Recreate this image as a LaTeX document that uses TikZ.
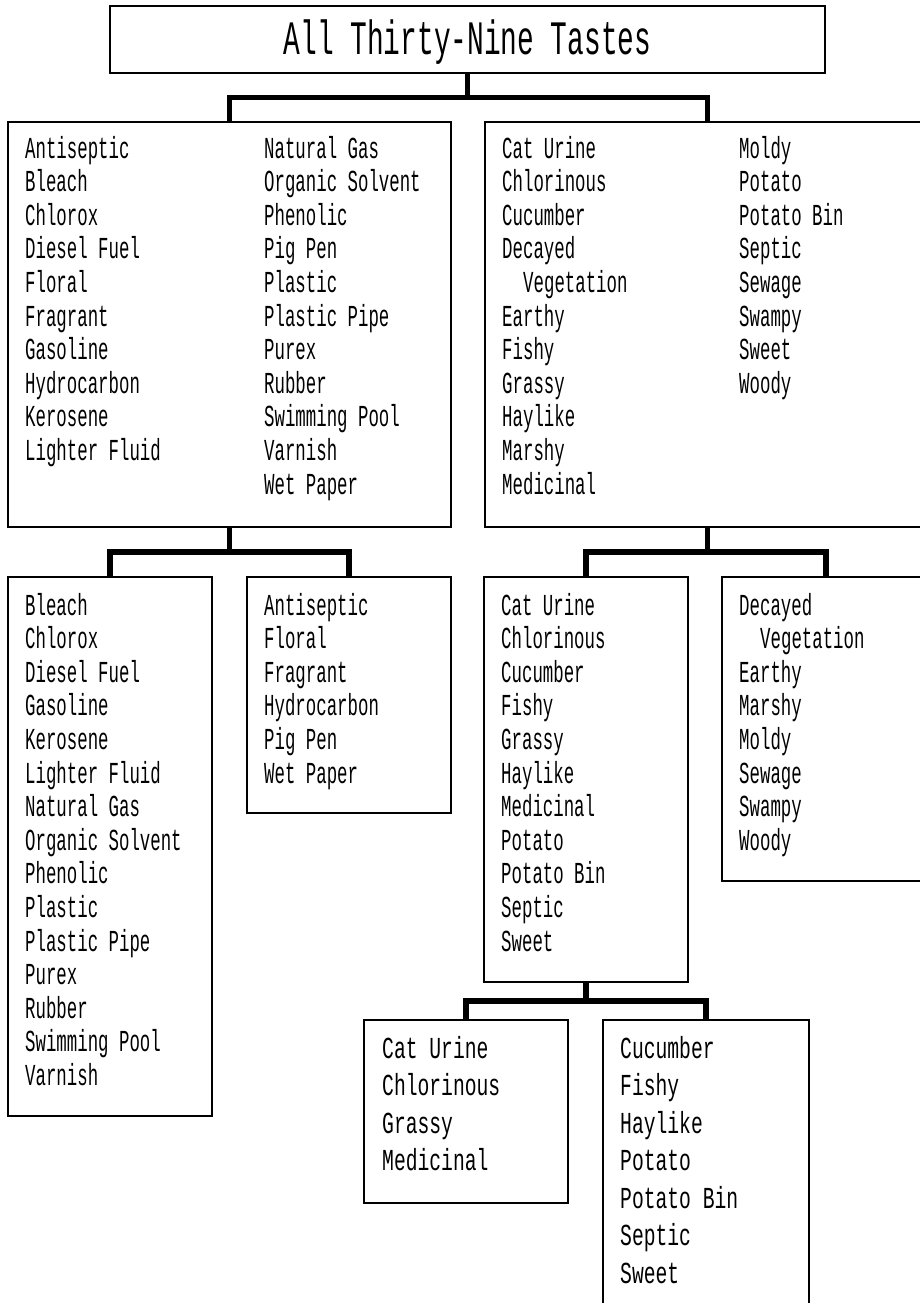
\documentclass[tikz,border=0pt]{standalone}
\usepackage{fontspec}
\newfontfamily\bodyfont[FakeStretch=0.57]{Liberation Mono}
\newfontfamily\lowfont[FakeStretch=0.645]{Liberation Mono}
\newfontfamily\titlefont[FakeStretch=0.58]{Liberation Mono}
\usetikzlibrary{calc}
\tikzset{
  tbox/.style={draw, line width=1.2pt, rectangle, inner sep=0pt},
  conn/.style={line width=5.5pt},
  item/.style={anchor=base west, inner sep=0pt, font=\bodyfont\fontsize{30.5}{33.6}\selectfont},
  lowitem/.style={anchor=base west, inner sep=0pt, font=\lowfont\fontsize{30.5}{37.5}\selectfont},
}
\newcommand\mkbox[5]{%
  \pgfmathsetmacro\bw{#4-#2}\pgfmathsetmacro\bh{#5-#3}%
  \node[tbox, minimum width=\bw pt, minimum height=\bh pt] (#1) at ({(#2+#4)/2},{(#3+#5)/2}) {};}
\newcommand\col[6]{%
  \foreach \t [count=\i from 0] in {#6} \node[#4] (#1-\i) at (#2,{#3+#5*\i}) {\t};}
\newcommand\tree[3]{%
  \coordinate (#1-m) at ($(#1.south)!.5!(#1.south |- #2.north)$);
  \draw[conn] (#1.south) -- (#1-m);
  \draw[conn] (#2.north) |- (#1-m) -| (#3.north);}
\begin{document}
\begin{tikzpicture}[x=1pt,y=-1pt]
\clip (0,0) rectangle (920,1303);
\fill[white] (0,0) rectangle (920,1303);
% boxes
\mkbox{top}{110}{6}{825}{73}
\mkbox{A}{8}{122}{451}{527}
\mkbox{B}{485}{122}{930}{527}
\mkbox{C}{8}{577}{212}{1116}
\mkbox{D}{247}{577}{451}{813}
\mkbox{E}{484}{577}{688}{982}
\mkbox{F}{722}{577}{930}{881}
\mkbox{G}{364}{1020}{568}{1203}
\mkbox{H}{603}{1020}{809}{1330}
% title
\node[anchor=base, inner sep=0pt, font=\titlefont\fontsize{48}{50}\selectfont] (title) at (467.5,55) {All Thirty-Nine Tastes};
% connectors
\tree{top}{A}{B}
\tree{A}{C}{D}
\tree{B}{E}{F}
\tree{E}{G}{H}
% texts
\col{a1}{25}{158}{item}{33.6}{Antiseptic,Bleach,Chlorox,Diesel Fuel,Floral,Fragrant,Gasoline,Hydrocarbon,Kerosene,Lighter Fluid}
\col{a2}{264}{158}{item}{33.6}{Natural Gas,Organic Solvent,Phenolic,Pig Pen,Plastic,Plastic Pipe,Purex,Rubber,Swimming Pool,Varnish,Wet Paper}
\col{b1}{502}{158}{item}{33.6}{Cat Urine,Chlorinous,Cucumber,Decayed,\hspace*{21pt}Vegetation,Earthy,Fishy,Grassy,Haylike,Marshy,Medicinal}
\col{b2}{739}{158}{item}{33.6}{Moldy,Potato,Potato Bin,Septic,Sewage,Swampy,Sweet,Woody}
\col{c}{25}{615}{item}{33.6}{Bleach,Chlorox,Diesel Fuel,Gasoline,Kerosene,Lighter Fluid,Natural Gas,Organic Solvent,Phenolic,Plastic,Plastic Pipe,Purex,Rubber,Swimming Pool,Varnish}
\col{d}{264}{615}{item}{33.6}{Antiseptic,Floral,Fragrant,Hydrocarbon,Pig Pen,Wet Paper}
\col{e}{501}{615}{item}{33.6}{Cat Urine,Chlorinous,Cucumber,Fishy,Grassy,Haylike,Medicinal,Potato,Potato Bin,Septic,Sweet}
\col{f}{739}{615}{item}{33.6}{Decayed,\hspace*{21pt}Vegetation,Earthy,Marshy,Moldy,Sewage,Swampy,Woody}
\col{g}{382}{1058}{lowitem}{37.5}{Cat Urine,Chlorinous,Grassy,Medicinal}
\col{h}{620}{1058}{lowitem}{37.5}{Cucumber,Fishy,Haylike,Potato,Potato Bin,Septic,Sweet}
\end{tikzpicture}
\end{document}
